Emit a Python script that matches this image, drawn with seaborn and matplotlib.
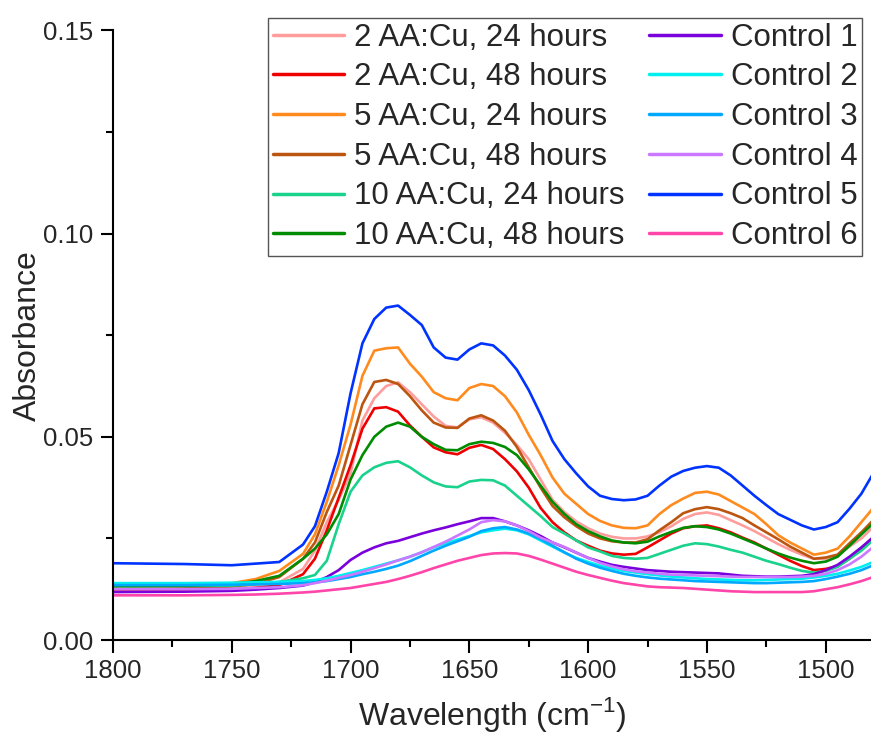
import matplotlib
matplotlib.use("Agg")
import matplotlib.pyplot as plt
import matplotlib.ticker as mticker
import pandas as pd
import numpy as np
import seaborn as sns

# wavenumber grid (cm-1)
wn = [1800, 1770, 1750, 1740, 1730,
      1720, 1715, 1710, 1705, 1700, 1695, 1690, 1685, 1680, 1675, 1670, 1665, 1660, 1655, 1650,
      1645, 1640, 1635, 1630, 1625, 1620, 1615, 1610, 1605, 1600, 1595, 1590, 1585, 1580, 1575,
      1570, 1565, 1560, 1555, 1550, 1545, 1540, 1535, 1530, 1525, 1520, 1515, 1510, 1505, 1500,
      1495, 1490, 1485, 1480]

aa2_24 = [.0125, .0126, .0128, .0132, .0142,
          .0175, .0220, .0290, .0345, .0410, .0540, .0595, .0625, .0634, .0610, .0580, .0550, .0527, .0523, .0543,
          .0548, .0535, .0510, .0480, .0445, .0395, .0345, .0315, .0292, .0275, .0262, .0254, .0250, .0250, .0255,
          .0265, .0280, .0298, .0310, .0314, .0308, .0295, .0282, .0268, .0252, .0236, .0222, .0210, .0200, .0200,
          .0208, .0230, .0250, .0278]
aa2_48 = [.0120, .0121, .0124, .0128, .0135,
          .0162, .0200, .0270, .0350, .0430, .0520, .0570, .0573, .0562, .0528, .0500, .0474, .0462, .0457, .0473,
          .0480, .0470, .0445, .0415, .0375, .0325, .0290, .0265, .0245, .0232, .0220, .0213, .0210, .0212, .0228,
          .0245, .0262, .0275, .0280, .0282, .0275, .0265, .0252, .0240, .0225, .0210, .0195, .0182, .0172, .0175,
          .0182, .0200, .0225, .0253]
aa5_24 = [.0130, .0133, .0140, .0150, .0170,
          .0212, .0260, .0340, .0430, .0530, .0650, .0712, .0718, .0720, .0680, .0648, .0610, .0595, .0590, .0620,
          .0630, .0625, .0600, .0560, .0505, .0455, .0400, .0360, .0335, .0310, .0293, .0282, .0276, .0275, .0282,
          .0310, .0332, .0348, .0362, .0365, .0358, .0342, .0326, .0310, .0285, .0258, .0240, .0225, .0210, .0215,
          .0225, .0255, .0290, .0325]
aa5_48 = [.0125, .0127, .0132, .0138, .0155,
          .0200, .0240, .0315, .0380, .0480, .0580, .0635, .0640, .0630, .0600, .0565, .0535, .0523, .0522, .0545,
          .0553, .0540, .0515, .0475, .0425, .0375, .0330, .0302, .0280, .0262, .0250, .0243, .0240, .0240, .0248,
          .0270, .0290, .0312, .0322, .0327, .0322, .0312, .0300, .0282, .0265, .0248, .0230, .0215, .0200, .0203,
          .0210, .0238, .0265, .0295]
aa10_24 = [.0132, .0133, .0134, .0137, .0143,
           .0152, .0160, .0195, .0285, .0365, .0405, .0425, .0436, .0440, .0425, .0405, .0388, .0378, .0376, .0390,
           .0394, .0393, .0380, .0355, .0330, .0305, .0278, .0262, .0245, .0228, .0218, .0207, .0202, .0200, .0202,
           .0212, .0222, .0232, .0238, .0236, .0230, .0222, .0215, .0205, .0195, .0187, .0178, .0170, .0166, .0170,
           .0180, .0200, .0220, .0246]
aa10_48 = [.0133, .0134, .0137, .0145, .0158,
           .0200, .0225, .0260, .0310, .0395, .0455, .0500, .0525, .0535, .0525, .0500, .0482, .0468, .0467, .0482,
           .0488, .0485, .0475, .0455, .0420, .0380, .0340, .0310, .0285, .0268, .0255, .0245, .0240, .0238, .0242,
           .0255, .0266, .0276, .0280, .0278, .0272, .0262, .0250, .0238, .0225, .0213, .0203, .0195, .0189, .0193,
           .0205, .0232, .0260, .0287]
ctrl1 = [.0118, .0119, .0121, .0124, .0128,
         .0134, .0142, .0155, .0172, .0197, .0215, .0228, .0238, .0244, .0253, .0262, .0270, .0277, .0285, .0292,
         .0300, .0300, .0292, .0282, .0270, .0256, .0240, .0228, .0215, .0202, .0193, .0185, .0180, .0176, .0172,
         .0170, .0168, .0167, .0166, .0165, .0164, .0161, .0158, .0157, .0156, .0156, .0157, .0158, .0162, .0172,
         .0185, .0205, .0228, .0253]
ctrl2 = [.0140, .0140, .0141, .0142, .0143,
         .0145, .0148, .0152, .0158, .0165, .0172, .0180, .0188, .0196, .0205, .0216, .0228, .0238, .0247, .0256,
         .0265, .0270, .0274, .0270, .0260, .0245, .0230, .0215, .0202, .0192, .0183, .0176, .0170, .0166, .0162,
         .0159, .0156, .0154, .0152, .0150, .0149, .0148, .0147, .0147, .0148, .0149, .0150, .0151, .0154, .0158,
         .0163, .0171, .0180, .0192]
ctrl3 = [.0135, .0135, .0136, .0137, .0138,
         .0140, .0142, .0145, .0150, .0155, .0162, .0168, .0175, .0183, .0194, .0207, .0220, .0232, .0243, .0254,
         .0268, .0275, .0278, .0272, .0262, .0248, .0232, .0216, .0200, .0188, .0178, .0170, .0163, .0158, .0154,
         .0151, .0149, .0147, .0145, .0144, .0143, .0142, .0141, .0140, .0140, .0141, .0142, .0143, .0145, .0150,
         .0156, .0163, .0172, .0184]
ctrl4 = [.0125, .0125, .0126, .0128, .0130,
         .0135, .0140, .0146, .0153, .0160, .0168, .0177, .0186, .0196, .0205, .0216, .0229, .0242, .0257, .0272,
         .0290, .0295, .0292, .0282, .0268, .0252, .0240, .0229, .0215, .0202, .0190, .0181, .0174, .0169, .0166,
         .0163, .0161, .0160, .0159, .0158, .0157, .0156, .0155, .0155, .0155, .0155, .0155, .0156, .0158, .0163,
         .0172, .0186, .0205, .0229]
ctrl5 = [.0189, .0187, .0184, .0188, .0192,
         .0235, .0280, .0365, .0460, .0607, .0730, .0790, .0818, .0823, .0800, .0775, .0720, .0695, .0690, .0715,
         .0730, .0725, .0700, .0665, .0615, .0555, .0490, .0445, .0410, .0378, .0355, .0347, .0344, .0346, .0355,
         .0380, .0402, .0416, .0424, .0428, .0424, .0405, .0380, .0355, .0332, .0310, .0296, .0282, .0272, .0278,
         .0290, .0323, .0360, .0410]
ctrl6 = [.0110, .0110, .0111, .0112, .0114,
         .0117, .0119, .0122, .0125, .0128, .0133, .0138, .0143, .0150, .0158, .0167, .0177, .0186, .0195, .0202,
         .0209, .0213, .0214, .0213, .0207, .0198, .0188, .0178, .0168, .0160, .0153, .0146, .0140, .0136, .0132,
         .0130, .0129, .0128, .0126, .0124, .0122, .0120, .0119, .0118, .0118, .0118, .0118, .0118, .0120, .0125,
         .0130, .0137, .0145, .0155]

labels = ["2 AA:Cu, 24 hours", "2 AA:Cu, 48 hours", "5 AA:Cu, 24 hours", "5 AA:Cu, 48 hours",
          "10 AA:Cu, 24 hours", "10 AA:Cu, 48 hours",
          "Control 1", "Control 2", "Control 3", "Control 4", "Control 5", "Control 6"]
series = [aa2_24, aa2_48, aa5_24, aa5_48, aa10_24, aa10_48,
          ctrl1, ctrl2, ctrl3, ctrl4, ctrl5, ctrl6]
colors = ["#ff9d9d", "#ee0000", "#ff8a1e", "#bb5510", "#19d28c", "#008c00",
          "#7a00dc", "#00f0f0", "#00a8ff", "#cc77ff", "#0033ff", "#ff44aa"]

df = pd.concat([pd.DataFrame({"wn": wn, "abs": s, "sample": lab})
                for lab, s in zip(labels, series)], ignore_index=True)

sns.set_style("ticks")
plt.rcParams["font.family"] = ["Liberation Sans", "DejaVu Sans"]

fig = plt.figure(figsize=(8.71, 7.43), dpi=100)
ax = fig.add_axes([0.1297, 0.1386, 0.8715, 0.8204])

sns.lineplot(data=df, x="wn", y="abs", hue="sample", hue_order=labels,
             palette=colors, linewidth=1.9, sort=False, estimator=None, ax=ax)

ax.set_xlim(1800, 1480.5)
ax.set_ylim(0, 0.15)
ax.xaxis.set_major_locator(mticker.MultipleLocator(50))
ax.xaxis.set_minor_locator(mticker.MultipleLocator(25))
ax.yaxis.set_major_locator(mticker.MultipleLocator(0.05))
ax.yaxis.set_minor_locator(mticker.MultipleLocator(0.025))
ax.yaxis.set_major_formatter(mticker.FormatStrFormatter("%.2f"))
ax.tick_params(which="major", length=9, width=1.5, labelsize=18.5, color="black", pad=5)
ax.tick_params(which="minor", length=5, width=1.5, color="black")
for side in ["top", "right"]:
    ax.spines[side].set_visible(False)
for side in ["left", "bottom"]:
    ax.spines[side].set_linewidth(1.5)
    ax.spines[side].set_color("black")

ax.set_xlabel("Wavelength (cm$^{\\mathregular{-1}}$)", fontsize=23, labelpad=8)
ax.set_ylabel("Absorbance", fontsize=23, labelpad=0)

handles, labs = ax.get_legend_handles_labels()
leg = ax.legend(handles, labs, ncol=2, fontsize=22.5, loc="upper right",
                bbox_to_anchor=(862 / 871, 1 - 18 / 743), bbox_transform=fig.transFigure,
                frameon=True, fancybox=False, edgecolor="#555555", framealpha=1,
                borderaxespad=0, borderpad=0.15, labelspacing=0.31, handlelength=2.3,
                handletextpad=0.3, columnspacing=0.8)
leg.get_frame().set_linewidth(1.0)
for line in leg.get_lines():
    line.set_linewidth(2.5)

fig.savefig("out.png", dpi=100)
